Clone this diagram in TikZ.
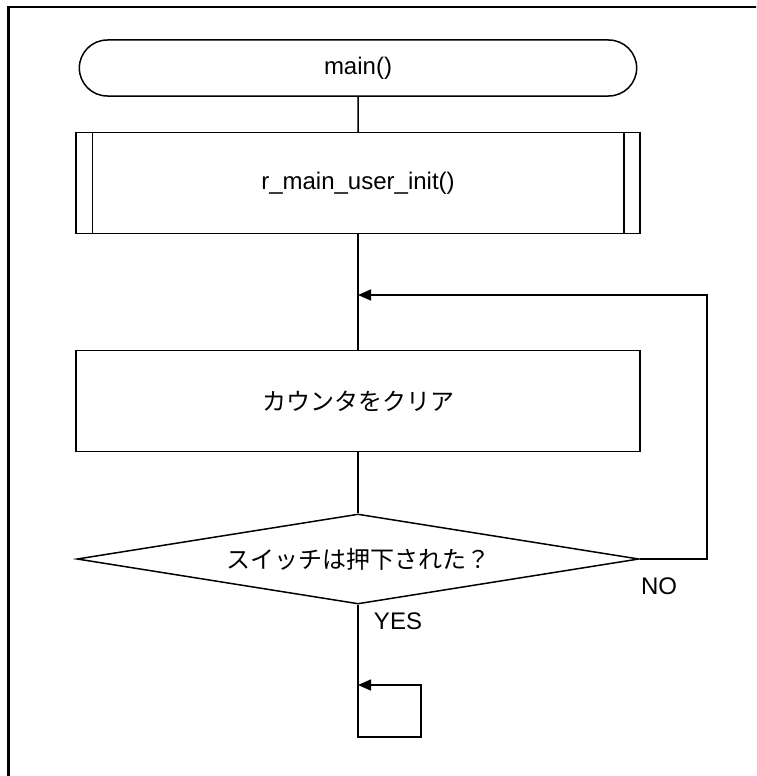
\documentclass[tikz,border=0pt]{standalone}
\usepackage{fontspec}
\setmainfont{Liberation Sans}
\newfontfamily\jpfont{Noto Sans CJK JP}
\usetikzlibrary{shapes.geometric,shapes.misc,arrows.meta}

\begin{document}
\begin{tikzpicture}[x=1pt, y=-1pt, line width=1.5pt,
    term node/.style={rounded rectangle, draw, minimum width=564pt, minimum height=56pt},
    proc node/.style={rectangle, draw, minimum width=564pt, minimum height=101pt},
    dec node/.style={diamond, draw, aspect=6.2, inner sep=0pt, minimum width=562pt, minimum height=90pt},
    flow/.style={-{Triangle[length=13pt,width=11pt]}}]
        \tikzstyle{every node}=[font=\fontsize{24}{28}\selectfont]

          \useasboundingbox (0,0) rectangle (756,776);
          \clip (0,0) rectangle (756,776);
          \draw[line width=2.5pt] (8.5,780) -- (8.5,7) -- (770,7);

          \node[term node] (main) at (358,68) {main()};
          \node[proc node] (init) at (358,183) {r\_main\_user\_init()};
          \node[proc node] (clear) at (358,401) {\jpfont カウンタをクリア};
          \node[dec node] (sw) at (358,559) {\jpfont スイッチは押下された？};

          % sub-routine bars
          \draw ([xshift=17pt]init.north west) -- ([xshift=17pt]init.south west);
          \draw ([xshift=-17pt]init.north east) -- ([xshift=-17pt]init.south east);

          \coordinate (join) at (358,295);
          \coordinate (noR) at (707,559);
          \coordinate (endB) at (358,737);
          \coordinate (endT) at (421,685);
          \coordinate (endJ) at (358,685);

          \draw (main) -- (init);
          \draw (init) -- (clear);
          \draw (clear) -- (sw);
          \draw[flow] (sw.east) -- (noR) |- (join);
          \draw[flow] (sw.south) -- (endB) -| (endT) -- (endJ);

          \node (no) at (659,586) {NO};
          \node (yes) at (398,621) {YES};

        \end{tikzpicture}
\end{document}
